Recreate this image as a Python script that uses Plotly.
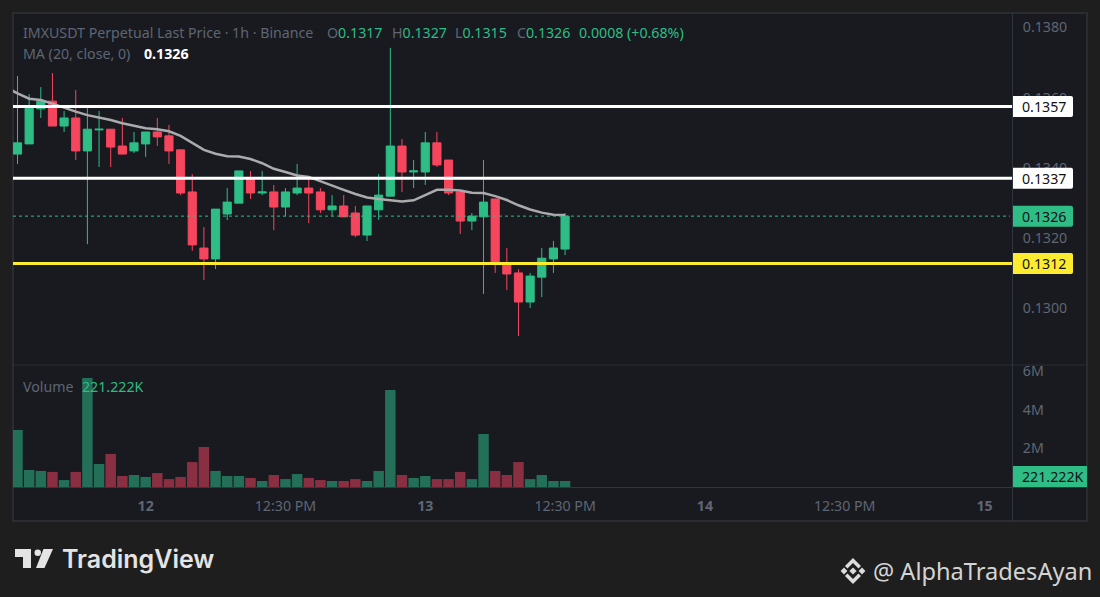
import plotly.graph_objects as go

W = 1100
H = 597

# hourly bars, index 0 is the first candle on screen
opens = [0.13439, 0.13468, 0.13568, 0.13590, 0.13519, 0.13542, 0.13448, 0.13508, 0.13510, 0.13462,
         0.13448, 0.13468, 0.13502, 0.13491, 0.13451, 0.13331, 0.13171, 0.13140, 0.13268, 0.13299,
         0.13371, 0.13328, 0.13331, 0.13288, 0.13328, 0.13342, 0.13331, 0.13280, 0.13291, 0.13271,
         0.13208, 0.13280, 0.13319, 0.13462, 0.13388, 0.13388, 0.13471, 0.13422, 0.13331, 0.13248,
         0.13260, 0.13311, 0.13123, 0.13100, 0.13017, 0.13088, 0.13140, 0.13168]
highs = [0.13662, 0.13610, 0.13630, 0.13670, 0.13562, 0.13622, 0.13570, 0.13562, 0.13510, 0.13542,
         0.13502, 0.13502, 0.13542, 0.13522, 0.13451, 0.13382, 0.13231, 0.13282, 0.13342, 0.13391,
         0.13391, 0.13391, 0.13351, 0.13342, 0.13411, 0.13371, 0.13342, 0.13322, 0.13322, 0.13291,
         0.13291, 0.13382, 0.13742, 0.13482, 0.13422, 0.13502, 0.13502, 0.13422, 0.13331, 0.13271,
         0.13422, 0.13311, 0.13171, 0.13111, 0.13100, 0.13171, 0.13191, 0.13271]
lows = [0.13411, 0.13468, 0.13542, 0.13519, 0.13502, 0.13422, 0.13182, 0.13402, 0.13402, 0.13439,
        0.13442, 0.13431, 0.13462, 0.13411, 0.13322, 0.13163, 0.13080, 0.13111, 0.13251, 0.13299,
        0.13311, 0.13322, 0.13222, 0.13262, 0.13322, 0.13242, 0.13271, 0.13262, 0.13260, 0.13202,
        0.13191, 0.13251, 0.13319, 0.13331, 0.13342, 0.13351, 0.13402, 0.13322, 0.13211, 0.13222,
        0.13040, 0.13100, 0.13051, 0.12920, 0.13000, 0.13031, 0.13100, 0.13151]
closes = [0.13471, 0.13570, 0.13590, 0.13519, 0.13542, 0.13448, 0.13510, 0.13510, 0.13459, 0.13439,
          0.13471, 0.13502, 0.13488, 0.13448, 0.13328, 0.13180, 0.13140, 0.13282, 0.13302, 0.13391,
          0.13328, 0.13331, 0.13288, 0.13331, 0.13342, 0.13328, 0.13280, 0.13291, 0.13260, 0.13208,
          0.13291, 0.13322, 0.13462, 0.13388, 0.13391, 0.13471, 0.13408, 0.13328, 0.13248, 0.13262,
          0.13302, 0.13128, 0.13097, 0.13017, 0.13091, 0.13142, 0.13171, 0.13262]
volumes_m = [2.95, 0.88, 0.83, 0.78, 0.36, 0.78, 5.64, 1.19, 1.71, 0.57,
             0.62, 0.52, 0.72, 0.41, 0.52, 1.29, 2.07, 0.83, 0.57, 0.57,
             0.47, 0.31, 0.62, 0.41, 0.67, 0.47, 0.36, 0.31, 0.31, 0.41,
             0.31, 0.83, 5.02, 0.62, 0.47, 0.57, 0.41, 0.41, 0.78, 0.41,
             2.74, 0.83, 0.62, 1.29, 0.41, 0.62, 0.31, 0.31]

# MA starts one bar before the first candle, it runs in from the left edge
ma_20 = [0.13630, 0.13612, 0.13597, 0.13593, 0.13583, 0.13571, 0.13560, 0.13550, 0.13544, 0.13536,
         0.13527, 0.13520, 0.13513, 0.13510, 0.13504, 0.13491, 0.13470, 0.13451, 0.13440, 0.13433,
         0.13432, 0.13425, 0.13413, 0.13397, 0.13388, 0.13378, 0.13374, 0.13361, 0.13348, 0.13337,
         0.13325, 0.13315, 0.13311, 0.13307, 0.13304, 0.13307, 0.13322, 0.13337, 0.13337, 0.13335,
         0.13329, 0.13328, 0.13319, 0.13308, 0.13293, 0.13281, 0.13272, 0.13266, 0.13265]

level_prices = [0.13575, 0.13370, 0.13127]
level_labels = ["0.1357", "0.1337", "0.1312"]
level_colors = ["#ffffff", "#ffffff", "#fdeb30"]
last_price = 0.13262
last_label = "0.1326"

price_ticks = [0.1300, 0.1320, 0.1340, 0.1360, 0.1380]
price_ticktext = ["0.1300", "0.1320", "0.1340", "0.1360", "0.1380"]
volume_ticks = [2, 4, 6]
volume_ticktext = ["2M", "4M", "6M"]
time_ticks = [11, 23, 35, 47, 59, 71, 83]
time_ticktext = ["<b>12</b>", "12:30 PM", "<b>13</b>", "12:30 PM", "<b>14</b>", "12:30 PM", "<b>15</b>"]

GREEN = "#2ebd85"
RED = "#f6465d"
VOL_GREEN = "#236f57"
VOL_RED = "#8a2f41"
PANEL = "#181a20"
OUTER = "#1e1e1e"
BORDER = "#2b2c30"
GRAY = "#5e6673"
FONT = "Noto Sans"
SIZE = 14.2


def px(x):
    return x / W


def py(y):
    return 1 - y / H


def poly(points):
    return "M" + " L".join(f"{px(x):.5f},{py(y):.5f}" for x, y in points) + " Z"


def text(s, x, y, size=SIZE, color=GRAY, **kw):
    # annotations keep about 2px of padding round the text
    fig.add_annotation(text=s, x=px(x - 2), y=py(y), xref="paper", yref="paper", xanchor="left",
                       yanchor="middle", showarrow=False, font=dict(size=size, color=color, family=FONT), **kw)


bars = list(range(len(closes)))
bar_colors = [VOL_GREEN if c >= o else VOL_RED for o, c in zip(opens, closes)]

fig = go.Figure()
fig.add_trace(go.Candlestick(x=bars, open=opens, high=highs, low=lows, close=closes, yaxis="y", xaxis="x",
                             increasing=dict(line=dict(color=GREEN, width=1), fillcolor=GREEN),
                             decreasing=dict(line=dict(color=RED, width=1), fillcolor=RED),
                             whiskerwidth=0, showlegend=False))
fig.add_trace(go.Scatter(x=list(range(-1, len(closes))), y=ma_20, mode="lines", yaxis="y", xaxis="x",
                         line=dict(color="#ababae", width=2.5), showlegend=False))
fig.add_trace(go.Bar(x=bars, y=volumes_m, marker=dict(color=bar_colors, line=dict(width=0)), width=0.9,
                     yaxis="y2", xaxis="x", showlegend=False))

# panel frame and separators
fig.add_shape(type="rect", xref="paper", yref="paper", x0=px(13), x1=px(1087), y0=py(521), y1=py(13),
              fillcolor=PANEL, line=dict(color=BORDER, width=2), layer="below")
fig.add_shape(type="line", xref="paper", yref="paper", x0=px(13), x1=px(1087), y0=py(365), y1=py(365),
              line=dict(color=BORDER, width=1), layer="below")
fig.add_shape(type="line", xref="paper", yref="paper", x0=px(13), x1=px(1087), y0=py(487.5), y1=py(487.5),
              line=dict(color="#33363d", width=1), layer="below")
fig.add_shape(type="line", xref="paper", yref="paper", x0=px(1012.5), x1=px(1012.5), y0=py(521), y1=py(13),
              line=dict(color="#2c3440", width=1), layer="below")

# drawn levels
for price, color in zip(level_prices, level_colors):
    fig.add_shape(type="line", xref="paper", yref="y", x0=px(13), x1=px(1012), y0=price, y1=price,
                  line=dict(color=color, width=3))
fig.add_shape(type="line", xref="paper", yref="y", x0=px(13), x1=px(1010), y0=last_price, y1=last_price,
              line=dict(color=GREEN, width=1, dash="dot"))

# price tags on the scale
LABEL_PATH = "M0,-10.5 H58 Q60,-10.5 60,-8.5 V8.5 Q60,10.5 58,10.5 H0 Z"
tags = list(zip(level_prices, level_labels, level_colors)) + [(last_price, last_label, GREEN)]
for price, label, color in tags:
    fig.add_shape(type="path", path=LABEL_PATH, xref="paper", yref="y", xsizemode="pixel", ysizemode="pixel",
                  xanchor=px(1013), yanchor=price, fillcolor=color, line=dict(width=0))
    fig.add_annotation(text=label, x=px(1020), y=price, xref="paper", yref="y", xanchor="left", yanchor="middle",
                       showarrow=False, font=dict(size=SIZE, color="#111216", family=FONT))

fig.add_shape(type="path", path=poly([(1013, 466), (1087, 466), (1087, 487), (1013, 487)]), xref="paper", yref="paper",
              fillcolor=GREEN, line=dict(width=0))
text("221.222K", 1022, 476.5, color="#111216")

# legend rows
text("IMXUSDT Perpetual Last Price · 1h · Binance", 23, 32.5)
g = f'<span style="color:{GREEN}">'
text(f"O{g}0.1317</span>", 327, 32.5)
text(f"H{g}0.1327</span>", 391.5, 32.5)
text(f"L{g}0.1315</span>", 455, 32.5)
text(f"C{g}0.1326</span>", 516.5, 32.5)
text("0.0008 (+0.68%)", 579, 32.5, color=GREEN)
text("MA (20, close, 0)", 23, 54)
text("<b>0.1326</b>", 144, 54, color="#ffffff")
text("Volume", 23, 386)
text("221.222K", 82, 386, color=GREEN)

# TradingView mark
LOGO = "#e4e4e4"
fig.add_shape(type="path", path=poly([(15, 549), (31, 549), (31, 568), (23, 568), (23, 557), (15, 557)]),
              xref="paper", yref="paper", fillcolor=LOGO, line=dict(width=0))
fig.add_shape(type="path", path=poly([(43.5, 549), (53, 549), (44.5, 568), (36, 568)]),
              xref="paper", yref="paper", fillcolor=LOGO, line=dict(width=0))
fig.add_shape(type="circle", xref="paper", yref="paper", x0=px(34.5), x1=px(41), y0=py(556), y1=py(549.5),
              fillcolor=LOGO, line=dict(width=0))
fig.add_annotation(text="TradingView", x=px(59.5), y=py(559), xref="paper", yref="paper", xanchor="left", yanchor="middle",
                   showarrow=False, font=dict(size=25, color=LOGO, family="Inter", weight=600))

# Binance mark
cx, cy = 853, 571
for dx, dy, r in [(0, 0, 3.6), (-9, 0, 3.4), (9, 0, 3.4)]:
    fig.add_shape(type="path", xref="paper", yref="paper", fillcolor="#dcdcdc", line=dict(width=0),
                  path=poly([(cx + dx - r, cy), (cx + dx, cy - r), (cx + dx + r, cy), (cx + dx, cy + r)]))
for s in (-1, 1):
    fig.add_shape(type="path", xref="paper", yref="paper", fillcolor="#dcdcdc", line=dict(width=0),
                  path=poly([(cx, cy + s * 13), (cx + 8, cy + s * 5), (cx + 5.5, cy + s * 2.5), (cx, cy + s * 8),
                             (cx - 5.5, cy + s * 2.5), (cx - 8, cy + s * 5)]))
text("@ AlphaTradesAyan", 873, 571, size=23.6, color="#d4d4d4")

axis_font = dict(size=SIZE, color=GRAY, family=FONT)
fig.update_layout(
    width=W, height=H, margin=dict(l=0, r=0, t=0, b=0),
    paper_bgcolor=OUTER, plot_bgcolor="rgba(0,0,0,0)",
    boxgap=0.3, boxgroupgap=0, bargap=0.1, hovermode=False, dragmode=False,
    xaxis=dict(domain=[px(13), px(1012)], range=[-0.386, 85.36], anchor="y2", showgrid=False, zeroline=False,
               automargin=False, rangeslider=dict(visible=False), tickmode="array", tickvals=time_ticks,
               ticktext=time_ticktext, tickfont=axis_font, ticks="outside", ticklen=6, tickcolor="rgba(0,0,0,0)"),
    yaxis=dict(domain=[py(365), py(13)], range=[0.128374, 0.138414], side="right", anchor="x", showgrid=False,
               automargin=False, zeroline=False, tickmode="array", tickvals=price_ticks, ticktext=price_ticktext,
               tickfont=axis_font, ticks="outside", ticklen=7, tickcolor="rgba(0,0,0,0)"),
    yaxis2=dict(domain=[py(487), py(365)], range=[0, 6.31], side="right", anchor="x", showgrid=False,
                automargin=False, zeroline=False, tickmode="array", tickvals=volume_ticks, ticktext=volume_ticktext,
                tickfont=axis_font, ticks="outside", ticklen=7, tickcolor="rgba(0,0,0,0)"),
)

fig.write_html("out.html", config=dict(displayModeBar=False),
               post_script="document.body.style.margin='0';document.documentElement.style.overflow='hidden';")
